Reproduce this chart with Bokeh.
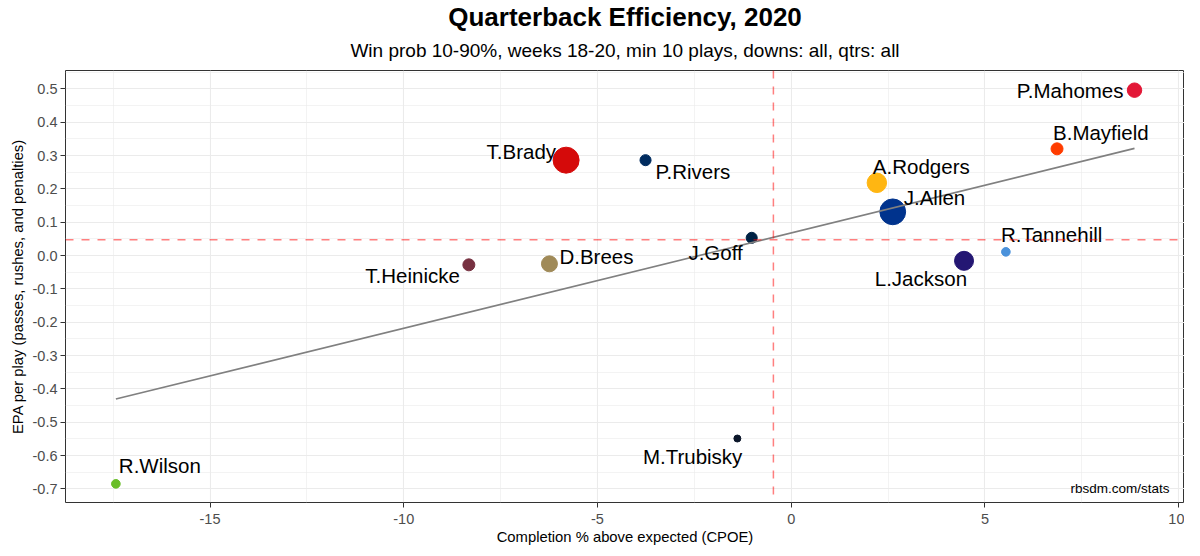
import numpy as np
from bokeh.plotting import figure
from bokeh.models import Range1d, FixedTicker, Span, Label, Title, ColumnDataSource
from bokeh.core.properties import value
from bokeh.embed import file_html
from bokeh.resources import INLINE

# ---------------- data ----------------
players = ["P.Mahomes", "B.Mayfield", "T.Brady", "P.Rivers", "A.Rodgers", "J.Allen",
           "J.Goff", "R.Tannehill", "L.Jackson", "D.Brees", "T.Heinicke", "M.Trubisky", "R.Wilson"]
cpoe = [8.86, 6.86, -5.81, -3.76, 2.21, 2.62, -1.02, 5.54, 4.46, -6.24, -8.32, -1.39, -17.43]
epa = [0.496, 0.320, 0.286, 0.286, 0.218, 0.131, 0.053, 0.011, -0.016, -0.025, -0.028, -0.549, -0.685]
plays = [50, 39, 160, 36, 86, 157, 36, 31, 82, 59, 39, 30, 31]
mean_cpoe = -0.46
mean_epa = 0.047

x_ticks = [-15, -10, -5, 0, 5, 10]
x_tick_labels = ["-15", "-10", "-5", "0", "5", "10"]
y_ticks = [-0.7, -0.6, -0.5, -0.4, -0.3, -0.2, -0.1, 0.0, 0.1, 0.2, 0.3, 0.4, 0.5]
y_tick_labels = ["-0.7", "-0.6", "-0.5", "-0.4", "-0.3", "-0.2", "-0.1", "0.0", "0.1", "0.2", "0.3", "0.4", "0.5"]

title_text = "Quarterback Efficiency, 2020"
subtitle_text = "Win prob 10-90%, weeks 18-20, min 10 plays, downs: all, qtrs: all"
x_title = "Completion % above expected (CPOE)"
y_title = "EPA per play (passes, rushes, and penalties)"
caption = "rbsdm.com/stats"

# ---------------- styles ----------------
team_colors = ["#E31837", "#FF3C00", "#D50A0A", "#002C5F", "#FFB612", "#00338D",
               "#002244", "#4B92DB", "#241773", "#A08A58", "#773141", "#0B162A", "#69BE28"]
# label placement: (dx px right, dy px down, align)
label_layout = {
    "P.Mahomes": (-11, 0, "right"),
    "B.Mayfield": (-4, -16, "left"),
    "T.Brady": (-10, -9, "right"),
    "P.Rivers": (10, 11, "left"),
    "A.Rodgers": (-4, -16, "left"),
    "J.Allen": (11, -14, "left"),
    "J.Goff": (-9, 15, "right"),
    "R.Tannehill": (-5, -17, "left"),
    "L.Jackson": (3, 18, "right"),
    "D.Brees": (10, -7, "left"),
    "T.Heinicke": (-9, 11, "right"),
    "M.Trubisky": (5, 18, "right"),
    "R.Wilson": (3, -18, "left"),
}
FONT = "Liberation Sans"

# ggplot-like area size scale
pl = np.array(plays, dtype=float)
diam = 7 + 19 * np.sqrt((pl - pl.min()) / (pl.max() - pl.min()))

src = ColumnDataSource(dict(
    x=cpoe, y=epa, name=players, color=team_colors, size=diam,
    dx=[label_layout[n][0] for n in players],
    dy=[label_layout[n][1] for n in players],
    align=[label_layout[n][2] for n in players],
))

xr = Range1d(-18.73, 10.15)
yr = Range1d(-0.741, 0.555)
p = figure(frame_width=1119, frame_height=432, x_range=xr, y_range=yr,
           output_backend="svg", toolbar_location=None, title=None,
           min_border_left=65, min_border_right=0, min_border_bottom=45, min_border_top=70,
           background_fill_color="white", border_fill_color="white")

p.add_layout(Title(text=subtitle_text, align="center", text_font=FONT, text_font_size="19px",
                   text_font_style="normal", text_color="black", standoff=20), "above")
p.add_layout(Title(text=title_text, align="center", text_font=FONT, text_font_size="26px",
                   text_font_style="bold", text_color="black", standoff=-9), "above")

p.outline_line_color = "#333333"
p.outline_line_width = 1

xt = FixedTicker(ticks=x_ticks, minor_ticks=list(np.arange(-17.5, 10, 5)))
yt = FixedTicker(ticks=y_ticks, minor_ticks=list(np.round(np.arange(-0.65, 0.56, 0.1), 2)))
p.xaxis.ticker = xt
p.yaxis.ticker = yt
p.xaxis.major_label_overrides = {t: l for t, l in zip(x_ticks, x_tick_labels)}
p.yaxis.major_label_overrides = {t: l for t, l in zip(y_ticks, y_tick_labels)}

for ax in (p.xaxis, p.yaxis):
    ax.axis_line_color = None
    ax.major_tick_line_color = "#333333"
    ax.major_tick_out = 5
    ax.major_tick_in = 0
    ax.minor_tick_line_color = None
    ax.major_label_text_font = FONT
    ax.major_label_text_font_size = "14.5px"
    ax.major_label_text_color = "#4D4D4D"
    ax.axis_label_text_font = FONT
    ax.axis_label_text_font_size = "14.8px"
    ax.axis_label_text_font_style = "normal"
    ax.axis_label_text_color = "black"
p.xaxis.axis_label = x_title
p.yaxis.axis_label = y_title
p.xaxis.major_label_standoff = 6
p.xaxis.axis_label_standoff = 2
p.yaxis.major_label_standoff = 3
p.yaxis.axis_label_standoff = 4

p.grid.grid_line_color = "#EBEBEB"
p.grid.grid_line_width = 1.1
p.grid.minor_grid_line_color = "#EBEBEB"
p.grid.minor_grid_line_width = 0.6

p.add_layout(Span(location=mean_cpoe, dimension="height", line_color="red", line_alpha=0.5,
                  line_dash="8 8", line_width=1.5))
p.add_layout(Span(location=mean_epa, dimension="width", line_color="red", line_alpha=0.5,
                  line_dash="8 8", line_width=1.5))

p.scatter("x", "y", source=src, size="size", fill_color="color", line_color="color")

slope, intercept = np.polyfit(cpoe, epa, 1)
xs = np.array([min(cpoe), max(cpoe)])
p.line(xs, slope * xs + intercept, line_color="#808080", line_width=1.6)

p.text("x", "y", text="name", source=src, x_offset="dx", y_offset="dy", text_align="align",
       text_baseline="middle", text_font=value(FONT), text_font_size="20.5px", text_color="black")

p.add_layout(Label(x=xr.end, y=yr.start, x_offset=-15, y_offset=7, text=caption, text_align="right",
                   text_baseline="bottom", text_font=FONT, text_font_size="13.5px", text_color="black"))

open("out.html", "w").write(file_html(p, INLINE))
